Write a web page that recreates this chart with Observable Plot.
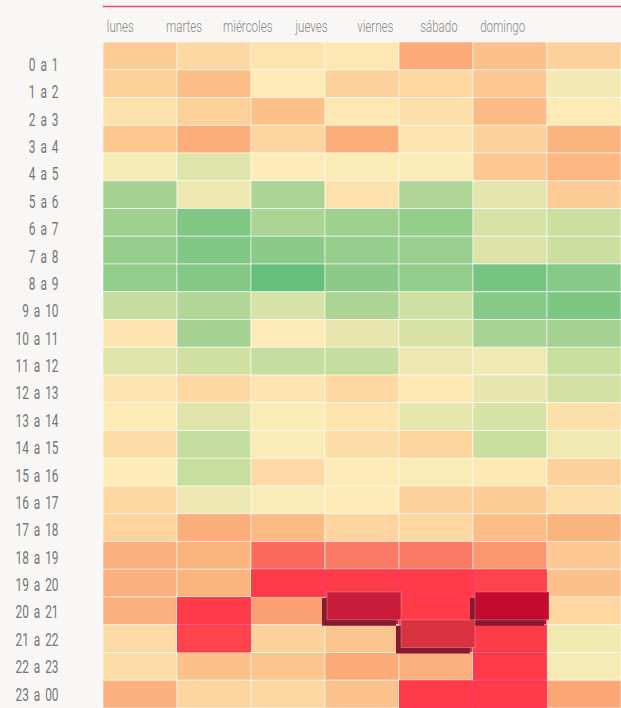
<!DOCTYPE html>
<html>
<head>
<meta charset="utf-8">
<script src="https://cdn.jsdelivr.net/npm/d3@7"></script>
<script src="https://cdn.jsdelivr.net/npm/@observablehq/plot@0.6"></script>
<style>
  html, body { margin: 0; padding: 0; background: #f8f7f5; }
  #wrap { position: relative; width: 621px; height: 708px; overflow: hidden; }
  #wrap > svg, #wrap > figure { position: absolute; left: 0; top: 0; margin: 0; }
</style>
</head>
<body>
<div id="wrap"></div>
<script>
const days = ["lunes", "martes", "miércoles", "jueves", "viernes", "sábado", "domingo"];
const hours = ["0 a 1", "1 a 2", "2 a 3", "3 a 4", "4 a 5", "5 a 6", "6 a 7", "7 a 8", "8 a 9", "9 a 10",
  "10 a 11", "11 a 12", "12 a 13", "13 a 14", "14 a 15", "15 a 16", "16 a 17", "17 a 18", "18 a 19",
  "19 a 20", "20 a 21", "21 a 22", "22 a 23", "23 a 00"];

// intensity index per hour (0 = low / green, 100 = high / dark red)
const lunes     = [59,58,50,61,43,20,18,16,15,29,48,36,48,45,52,45,54,56,69,69,69,53,52,69];
const martes    = [54,65,58,70,36,40,10,10,11,24,20,32,54,36,29,30,40,70,68,68,86,85,64,56];
const miercoles = [49,46,64,56,45,22,22,13,1,34,46,29,48,44,44,53,44,66,80,86,73,57,62,54];
const jueves    = [47,57,47,70,44,50,18,16,13,22,38,29,54,49,52,46,46,56,78,86,96,62,71,63];
const viernes   = [71,55,51,48,44,23,15,17,15,32,34,40,47,38,56,44,57,55,78,86,86,91,69,86];
const sabado    = [64,61,66,57,61,37,34,35,7,12,21,41,38,34,30,47,59,65,74,85,100,86,86,86];
const domingo   = [57,42,46,68,67,59,31,31,12,9,20,30,33,51,41,57,51,68,61,64,55,41,43,72];

const series = [lunes, martes, miercoles, jueves, viernes, sabado, domingo];
const data = [];
days.forEach((d, i) => hours.forEach((h, j) => data.push({day: d, hour: h, value: series[i][j]})));

const colorDomain = [0, 10, 20, 30, 38, 45, 55, 65, 72, 78, 86, 91, 96, 100];
const colorRange = ["#63be7b", "#80c785", "#a5d293", "#c8de9f", "#e6e6ae", "#fdecb8", "#fdd6a0",
  "#fcbd87", "#fba775", "#fb7a65", "#ff3b4a", "#d93240", "#c81c3a", "#c40a2f"];

const font = "Roboto, 'DejaVu Sans Condensed', sans-serif";

const hot = data.filter(d => d.value >= 84 && d.value < 90);
const top3 = data.filter(d => d.value >= 90);

const heat = Plot.plot({
  width: 621,
  height: 708,
  marginTop: 42,
  marginLeft: 103,
  marginRight: 0,
  marginBottom: 0,
  style: {background: "transparent", fontFamily: font},
  x: {domain: days, padding: 0, round: false, axis: null},
  y: {domain: hours, padding: 0, round: false, axis: null},
  color: {type: "linear", domain: colorDomain, range: colorRange, interpolate: "rgb"},
  marks: [
    Plot.frame({anchor: "top", dy: -36, stroke: "#f0486a", strokeWidth: 1.5}),
    Plot.cell(data, {x: "day", y: "hour", fill: "value", stroke: "#ffffff", strokeOpacity: 0.55, strokeWidth: 1}),
    Plot.cell(hot, {x: "day", y: "hour", fill: "none", stroke: "#ff1f50", strokeOpacity: 0.75, strokeWidth: 1, inset: 0.5}),
    Plot.cell(top3, {x: "day", y: "hour", fill: "#861a31", dx: -3, dy: 1}),
    Plot.cell(top3, {x: "day", y: "hour", fill: "value", dx: 2, dy: -5, stroke: "#ffffff", strokeOpacity: 0.25, strokeWidth: 1})
  ]
});

// label layer: the reference's day and hour labels sit on their own, slightly narrower grid
const labels = Plot.plot({
  width: 621,
  height: 708,
  marginTop: 51,
  marginBottom: 0,
  marginLeft: 88,
  marginRight: 87,
  style: {background: "transparent", fontFamily: font},
  x: {type: "band", domain: days, padding: 0, round: false},
  y: {type: "band", domain: hours, padding: 0, round: false},
  marks: [
    Plot.axisX({anchor: "top", tickSize: 0, tickPadding: 20, fontSize: 16.5, fontWeight: 300, fill: "#888888", label: null}),
    Plot.axisY({anchor: "left", tickSize: 0, tickPadding: 30, fontSize: 18, fill: "#767676", label: null})
  ]
});

// narrow the label glyphs horizontally around each label's own anchor point
function condense(svg, selector, k, wordSpacing) {
  svg.querySelectorAll(selector + " text").forEach(t => {
    const tr = t.getAttribute("transform") || "";
    t.setAttribute("transform", tr + ` scale(${k},1)`);
    if (wordSpacing) t.style.wordSpacing = wordSpacing;
  });
}
condense(labels, '[aria-label="y-axis tick label"]', 0.66, "3px");
condense(labels, '[aria-label="x-axis tick label"]', 0.7);

const wrap = document.getElementById("wrap");
wrap.appendChild(heat);
wrap.appendChild(labels);
</script>
</body>
</html>
